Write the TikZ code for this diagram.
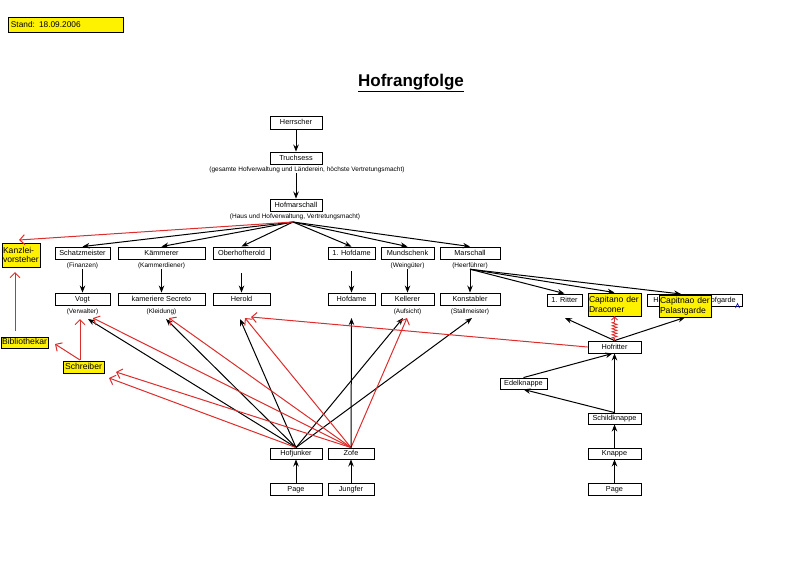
\documentclass[tikz,border=0pt]{standalone}
\usepackage{fontspec}
\setmainfont{Liberation Sans}
\usetikzlibrary{arrows.meta,decorations.pathmorphing,calc}
\definecolor{myred}{RGB}{220,45,45}
\newcommand{\bxf}{\fontsize{7.3}{8.5}\selectfont}
\newcommand{\cpf}{\fontsize{6.5}{7.5}\selectfont}
\newcommand{\ylf}{\fontsize{8.6}{9.8}\selectfont}
\tikzset{
  box/.style={draw=black, line width=0.9pt, fill=white, inner sep=0pt, font=\bxf, minimum height=12pt, text height=5.5pt, text depth=1.5pt},
  ybox/.style={draw=black, line width=0.9pt, fill=yellow, inner sep=1pt, font=\ylf, align=left},
  captxt/.style={inner sep=0pt, font=\cpf},
  blk/.style={black, line width=1pt, -{Stealth[length=7pt,width=5.5pt]}},
  rd/.style={myred, line width=1pt, -{Straight Barb[length=5pt,width=10pt]}},
}
\begin{document}
\begin{tikzpicture}[x=1pt,y=-1pt]
\path[use as bounding box] (0,0) rectangle (800,565);

% header
\node[draw=black, line width=0.9pt, fill=yellow, anchor=north west, minimum width=115pt, minimum height=15pt,
      text width=110pt, align=left, inner sep=2pt, font=\fontsize{8.3}{9}\selectfont] (stand) at (8,17) {Stand: 18.09.2006};
\node[anchor=base, inner sep=0pt, font=\bfseries\fontsize{17}{20}\selectfont] (title) at (411,86) {\underline{Hofrangfolge}};

% top chain
\node[box, minimum width=52pt, minimum height=13pt] (herr) at (296,122.5) {Herrscher};
\node[box, minimum width=52pt] (truch) at (296,158) {Truchsess};
\node[captxt] (truchcap) at (307,170) {(gesamte Hofverwaltung und Länderein, höchste Vertretungsmacht)};
\node[box, minimum width=52pt] (hofm) at (296,205) {Hofmarschall};
\node[captxt] (hofmcap) at (295,217) {(Haus und Hofverwaltung, Vertretungsmacht)};

% row 1
\node[box, minimum width=55pt] (schatz) at (82.5,253) {Schatzmeister};
\node[box, minimum width=87pt] (kamm) at (161.5,253) {Kämmerer};
\node[box, minimum width=57pt] (oberh) at (241.5,253) {Oberhofherold};
\node[box, minimum width=47pt] (hofd1) at (351.5,253) {1. Hofdame};
\node[box, minimum width=53pt] (mund) at (407.5,253) {Mundschenk};
\node[box, minimum width=60pt] (mars) at (470,253) {Marschall};
\node[captxt] (capfin) at (82.5,266) {(Finanzen)};
\node[captxt] (capkd) at (161.5,266) {(Kammerdiener)};
\node[captxt] (capwg) at (407.5,266) {(Weingüter)};
\node[captxt] (capheer) at (470,266) {(Heerführer)};

% row 2
\node[box, minimum width=55pt] (vogt) at (82.5,299) {Vogt};
\node[box, minimum width=87pt] (kamer) at (161.5,299) {kameriere Secreto};
\node[box, minimum width=57pt] (herold) at (241.5,299) {Herold};
\node[box, minimum width=47pt] (hofdame) at (351.5,299) {Hofdame};
\node[box, minimum width=53pt] (keller) at (407.5,299) {Kellerer};
\node[box, minimum width=60pt] (konst) at (470,299) {Konstabler};
\node[captxt] (capver) at (82.5,312) {(Verwalter)};
\node[captxt] (capkl) at (161.5,312) {(Kleidung)};
\node[captxt] (capauf) at (407.5,312) {(Aufsicht)};
\node[captxt] (capst) at (470,312) {(Stallmeister)};

\node[box, minimum width=35pt] (ritter) at (564.5,300) {1. Ritter};
\node[box, minimum width=95pt] (hofgarde) at (694.5,300) {Hauptmann der Hofgarde};
\node[ybox, minimum width=53pt, minimum height=23pt, text width=51pt] (capd) at (614.5,304.5) {Capitano der\\Draconer};
\node[ybox, minimum width=52pt, minimum height=22pt, text width=50pt] (capp) at (685,306) {Capitnao der\\Palastgarde};
\draw[blue, line width=0.6pt] (735.5,308) -- (737.5,303.5) -- (739.5,308);

% left yellow boxes
\node[ybox, minimum width=38pt, minimum height=24pt, text width=36pt] (kanz) at (21,255) {Kanzlei-\\vorsteher};
\node[ybox, minimum width=47pt, minimum height=11pt, text height=6.2pt, text depth=1.8pt] (biblio) at (24.5,342.5) {Bibliothekar};
\node[ybox, minimum width=41pt, minimum height=12pt, text height=6.2pt, text depth=1.8pt] (schreib) at (83.5,367) {Schreiber};

% right chain
\node[box, minimum width=53pt] (hofritter) at (614.5,347) {Hofritter};
\node[box, minimum width=47pt, minimum height=11pt] (edel) at (523.5,383.5) {Edelknappe};
\node[box, minimum width=53pt, minimum height=11pt] (schild) at (614.5,418.5) {Schildknappe};
\node[box, minimum width=53pt, minimum height=11pt] (knappe) at (614.5,453.5) {Knappe};
\node[box, minimum width=53pt] (pager) at (614.5,489.5) {Page};

% bottom left
\node[box, minimum width=52pt, minimum height=11pt] (junker) at (296,453.5) {Hofjunker};
\node[box, minimum width=46pt, minimum height=11pt] (zofe) at (351,453.5) {Zofe};
\node[box, minimum width=52pt] (pagel) at (296,489) {Page};
\node[box, minimum width=46pt] (jungf) at (351,489) {Jungfer};

% named free ends
\coordinate (hf) at (293,222);
\coordinate (tVogtB) at (88,319);
\coordinate (tVogtR) at (93,318);
\coordinate (tKamB) at (166,319);
\coordinate (tKamR) at (169,318);
\coordinate (tHerB) at (240,319);
\coordinate (tHerR) at (245,318);
\coordinate (tHerH) at (251,317);
\coordinate (tKelB) at (403,318);
\coordinate (tKelR) at (407,318);
\coordinate (tKonB) at (472,318);
\coordinate (tHofd) at (351.5,318);
\coordinate (tSchrA) at (109,378);
\coordinate (tSchrB) at (116,372);
\coordinate (tRit) at (565,318);
\coordinate (bibS) at (15,331);
\coordinate (kanzT) at (15,272);
\coordinate (schS) at (80,360);
\coordinate (vogtT) at (80,319);
\coordinate (bibT) at (55,344);
\coordinate (kanzTop) at (19,240);
\coordinate (hofgT) at (681,294);

% top arrows
\draw[blk] (herr) -- (truch);
\draw[blk] (truch |- truchcap.south) -- (hofm);
\foreach \t in {schatz,kamm,oberh,hofd1,mund,mars} \draw[blk] (hf) -- (\t.north);
\draw[rd] (hf) -- (kanzTop);

% row1 -> row2
\draw[blk] (capfin.south) -- (vogt.north);
\draw[blk] (capkd.south) -- (kamer.north);
\draw[blk] ($(oberh.south)+(0,14)$) -- (herold.north);
\draw[blk] ($(hofd1.south)+(0,12)$) -- (hofdame.north);
\draw[blk] (capwg.south) -- (keller.north);
\draw[blk] (capheer.south) -- (konst.north);
\draw[blk] (capheer.south) -- (ritter.north);
\draw[blk] (capheer.south) -- (capd.north);
\draw[blk] (capheer.south) -- (hofgT);

% left red
\draw[rd] (bibS) -- (kanzT);
\draw[rd] (schS) -- (vogtT);
\draw[rd] (schS) -- (bibT);

% Hofjunker / Zofe fans
\foreach \t in {tVogtB,tKamB,tHerB,tKelB,tKonB} \draw[blk] (junker.north) -- (\t);
\draw[rd] (junker.north) -- (tSchrA);
\foreach \t in {tVogtR,tKamR,tHerR,tKelR,tSchrB} \draw[rd] (zofe.north) -- (\t);
\draw[blk] (zofe.north) -- (tHofd);
\draw[blk] (pagel) -- (junker);
\draw[blk] (jungf) -- (zofe);

% right chain arrows
\draw[rd] (hofritter.west) -- (tHerH);
\draw[blk] (hofritter.north) -- (tRit);
\draw[blk] (hofritter.north) -- (capp.south);
\draw[myred, line width=0.8pt, decorate, decoration={zigzag, segment length=3pt, amplitude=2.5pt, pre length=2pt, post length=5pt}] (hofritter.north) -- (capd.south);
\draw[myred, line width=0.8pt, -{Straight Barb[length=3pt,width=6pt]}] ($(capd.south)+(0,3)$) -- (capd.south);
\draw[blk] (edel.north) -- ([xshift=-2pt]hofritter.south);
\draw[blk] (schild.north) -- (hofritter.south);
\draw[blk] (schild.north) -- (edel.south);
\draw[blk] (knappe) -- (schild);
\draw[blk] (pager) -- (knappe);
\end{tikzpicture}
\end{document}
